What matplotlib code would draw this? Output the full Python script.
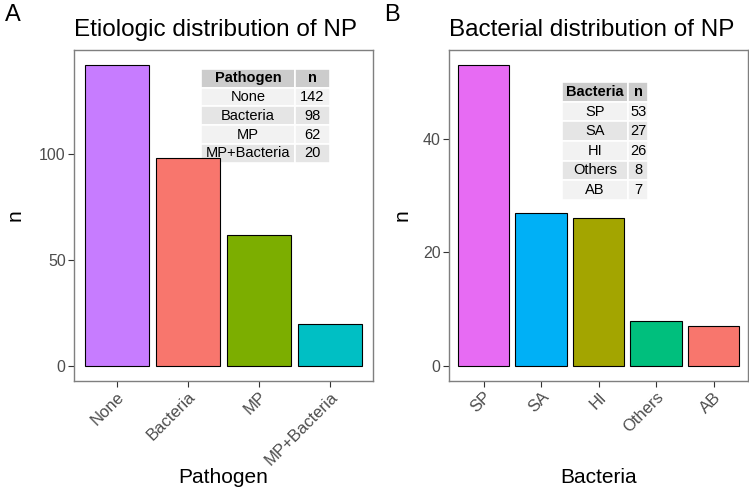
import matplotlib
matplotlib.use("Agg")
import matplotlib.pyplot as plt

plt.rcParams["font.family"] = ["Liberation Sans", "DejaVu Sans"]

# Panel A data
pathogens = ["None", "Bacteria", "MP", "MP+Bacteria"]
pathogen_n = [142, 98, 62, 20]
pathogen_colors = ["#C77CFF", "#F8766D", "#7CAE00", "#00BFC4"]

# Panel B data
bacteria = ["SP", "SA", "HI", "Others", "AB"]
bacteria_n = [53, 27, 26, 8, 7]
bacteria_colors = ["#E76BF3", "#00B0F6", "#A3A500", "#00BF7D", "#F8766D"]

W, H = 749, 488
fig = plt.figure(figsize=(W / 100, H / 100), dpi=100)


def px_axes(x0, y0, x1, y1):
    return fig.add_axes([x0 / W, 1 - y1 / H, (x1 - x0) / W, (y1 - y0) / H])


def draw_panel(ax, cats, vals, colors, title, xlab, yticks, col_head, tbl_bbox, col_w):
    x = list(range(1, len(cats) + 1))
    ax.bar(x, vals, width=0.9, color=colors, edgecolor="black", linewidth=0.8)
    top = max(vals)
    ax.set_xlim(0.4, len(cats) + 0.6)
    ax.set_ylim(-0.05 * top, top * 1.05)
    ax.set_xticks(x)
    ax.set_xticklabels(cats, rotation=45, ha="right", va="top",
                       rotation_mode="anchor", fontsize=12, color="#4D4D4D")
    ax.set_yticks(yticks)
    ax.set_yticklabels([str(t) for t in yticks], fontsize=11.5, color="#4D4D4D")
    ax.tick_params(length=4, width=0.8, color="#333333", pad=2)
    for s in ax.spines.values():
        s.set_color("#7F7F7F")
        s.set_linewidth(1.0)
    ax.set_title(title, fontsize=17.5, pad=10, loc="left")
    ax.set_xlabel(xlab, fontsize=15)
    ax.xaxis.set_label_coords(0.5, -0.293)
    ax.xaxis.label.set_va("center")
    ax.set_ylabel("n", fontsize=15)

    rows = [[c, str(v)] for c, v in zip(cats, vals)]
    tbl = ax.table(cellText=rows, colLabels=[col_head, "n"], bbox=tbl_bbox,
                   colWidths=col_w, cellLoc="center")
    tbl.auto_set_font_size(False)
    tbl.set_fontsize(10.5)
    for (r, c), cell in tbl.get_celld().items():
        cell.set_edgecolor("white")
        cell.set_linewidth(1.2)
        if r == 0:
            cell.set_facecolor("#CCCCCC")
            cell.get_text().set_fontweight("bold")
        else:
            cell.set_facecolor("#F2F2F2" if r % 2 == 1 else "#E5E5E5")


axA = px_axes(74, 50, 373, 381)
draw_panel(axA, pathogens, pathogen_n, pathogen_colors,
           "Etiologic distribution of NP", "Pathogen", [0, 50, 100],
           "Pathogen", [0.425, 0.659, 0.431, 0.284], [0.73, 0.27])
axA.yaxis.set_label_coords(-0.165, 0.5)

axB = px_axes(449, 50, 748, 381)
draw_panel(axB, bacteria, bacteria_n, bacteria_colors,
           "Bacterial distribution of NP", "Bacteria", [0, 20, 40],
           "Bacteria", [0.378, 0.547, 0.288, 0.356], [0.77, 0.23])
axB.yaxis.set_label_coords(-0.124, 0.5)

fig.text(5 / W, 1 - 15 / H, "A", fontsize=17, va="center", ha="left")
fig.text(384 / W, 1 - 15 / H, "B", fontsize=17, va="center", ha="left")

fig.savefig("out.png", dpi=100)
